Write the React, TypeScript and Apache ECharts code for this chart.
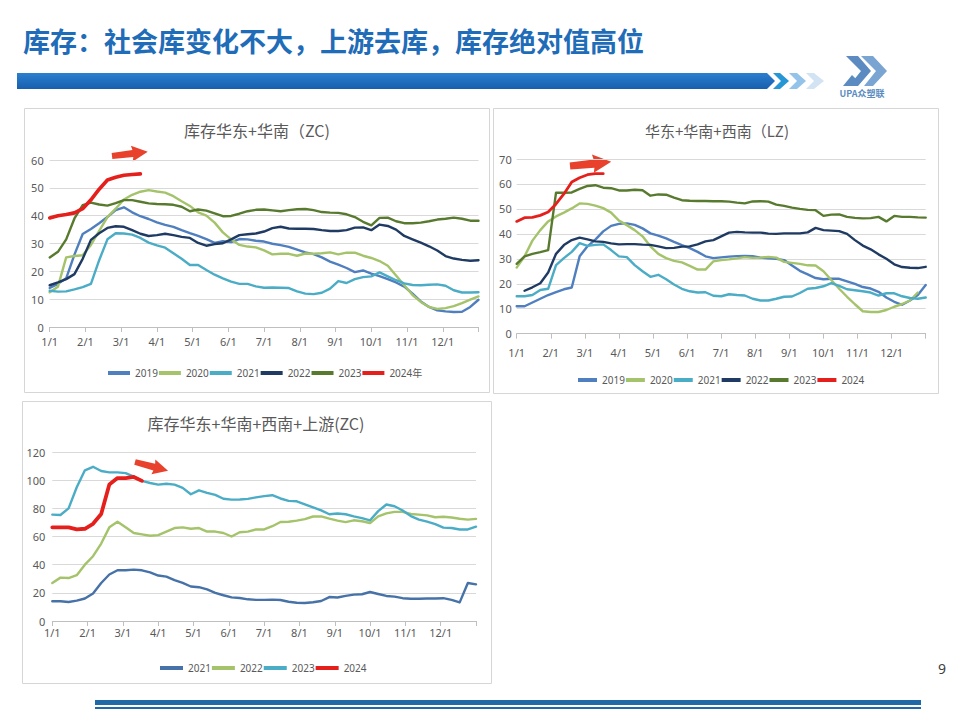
import React, { useEffect, useRef } from 'react';
import * as echarts from 'echarts';

// ---------- tick labels ----------
const monthLabels = ['1/1', '2/1', '3/1', '4/1', '5/1', '6/1', '7/1', '8/1', '9/1', '10/1', '11/1', '12/1'];
const WEEKS = 52; // weekly observations across 12 months

// ---------- chart 1: 库存华东+华南（ZC) ----------
const c1Names = ['2019', '2020', '2021', '2022', '2023', '2024年'];
const c1_2019 = [14, 15.5, 17.5, 26, 33.4, 35.2, 37.3, 39.5, 42, 43, 41.2, 39.8, 38.8, 37.6, 36.7, 36, 34.8, 33.7, 32.7, 31.6, 30.2, 30.8, 30.5, 31.6, 31.5, 31, 30.7, 29.9, 29.4, 28.8, 27.8, 26.8, 26.2, 25, 23.5, 22.4, 21.2, 19.7, 20.3, 19.2, 18.3, 17.2, 16, 14.5, 12, 9.2, 7.2, 6, 5.6, 5.4, 5.5, 7.2, 9.8];
const c1_2020 = [12.5, 14.5, 25, 25.5, 25.8, 29.5, 34.5, 39.5, 42.5, 45.8, 47.5, 48.6, 49.2, 48.7, 48.3, 47, 45.2, 43.5, 41.2, 40, 37.5, 34, 31.5, 29.5, 28.9, 28.6, 27.5, 26.1, 26.3, 26.3, 25.6, 26.4, 26.3, 26.5, 26.8, 26.1, 26.7, 26.7, 25.6, 24.8, 23.7, 22, 18.5, 15, 11.5, 9, 7.2, 6.5, 6.8, 7.5, 8.6, 9.8, 11];
const c1_2021 = [13, 12.7, 12.8, 13.5, 14.3, 15.5, 24, 31.5, 33.7, 33.6, 33.2, 32, 30.3, 29.3, 28.5, 26.5, 24.5, 22.3, 22.3, 20.5, 18.8, 17.5, 16.3, 15.5, 15.5, 14.6, 14.1, 14.2, 14.1, 14, 12.8, 12, 11.8, 12.3, 13.8, 16.5, 15.8, 17.2, 17.9, 18.2, 19.6, 18.2, 16.8, 15.7, 15.1, 15, 15.2, 15.3, 14.8, 13.2, 12.4, 12.4, 12.5];
const c1_2022 = [15, 16, 17.2, 19, 24.5, 31.3, 33.7, 35.6, 36.2, 36, 34.8, 33.5, 32.7, 33, 33.5, 33, 32.4, 32, 30.2, 29.2, 29.8, 30.1, 31.5, 33, 33.3, 33.6, 34.3, 35.5, 36, 35.4, 35.3, 35.3, 35.2, 34.8, 34.5, 34.5, 34.8, 35.7, 35.8, 34.8, 36.8, 36.3, 35, 32.7, 31.5, 30.3, 29, 27.5, 25.5, 24.6, 24.1, 23.8, 24];
const c1_2023 = [25, 27, 31.5, 39, 43.8, 44.7, 44, 43.6, 44.5, 45.6, 45.6, 45, 44.4, 44.2, 44.1, 43.9, 43.2, 41.6, 42.2, 41.8, 40.8, 39.8, 39.9, 40.7, 41.6, 42.1, 42.2, 41.9, 41.6, 42, 42.3, 42.4, 42, 41.3, 41.1, 41, 40.5, 39.5, 37.8, 36.5, 39.2, 39.3, 38, 37.3, 37.3, 37.5, 38, 38.6, 38.9, 39.3, 38.9, 38.2, 38.2];
const c1_2024 = [39.2, 40, 40.4, 41, 42.5, 45.7, 49.5, 52.8, 53.8, 54.5, 54.8, 55];

// ---------- chart 2: 华东+华南+西南（LZ) ----------
const c2Names = ['2019', '2020', '2021', '2022', '2023', '2024'];
const c2_2019 = [11, 11, 12.5, 14, 15.5, 16.7, 17.8, 18.5, 31, 35, 37.7, 41, 43.2, 44, 44.2, 43.6, 42.2, 40.2, 39.3, 38.2, 36.8, 35.5, 34.3, 32.8, 31, 30.3, 30.6, 30.9, 31.1, 31.2, 31.1, 30.5, 30.2, 30, 29.5, 27.3, 25.2, 23.8, 22.3, 21.8, 22, 22, 21, 20, 18.7, 18.1, 16.8, 14.5, 12.8, 11.6, 13.3, 15.5, 19.5];
const c2_2020 = [26.5, 31, 37.3, 41.5, 45, 47, 48.5, 50.2, 52.2, 52, 51.3, 50.3, 48.5, 45.3, 43.5, 41.5, 39, 35, 32, 30.3, 29.2, 28.6, 27.2, 25.7, 25.7, 29, 29.5, 29.8, 30.2, 30.7, 30.4, 30.5, 30.8, 30.5, 28.8, 28.4, 28, 27.4, 27.3, 25, 21.5, 18, 14.8, 11.8, 9, 8.7, 8.7, 9.5, 10.8, 11.9, 13.3, 16.5];
const c2_2021 = [15, 15, 15.5, 17.5, 18, 27.5, 30.3, 32.8, 36.3, 35.2, 35.6, 35.8, 33.5, 31, 30.7, 27.5, 25, 22.8, 23.6, 21.8, 19.7, 18, 17, 16.5, 16.6, 15.2, 15, 15.8, 15.5, 15.3, 14, 13.3, 13.3, 14, 14.8, 14.9, 16.3, 18, 18.3, 19, 20.3, 19.2, 17.8, 17.4, 17, 16.5, 15.3, 16.2, 16.2, 15, 14.3, 14, 14.5];
const c2_2022 = [17.2, 18.6, 20.2, 24.5, 32, 35.5, 37.5, 38.5, 37.8, 37, 36.8, 36.2, 35.8, 35.9, 35.9, 35.7, 35.6, 35, 34.3, 34.4, 34.9, 35, 35.8, 37, 37.5, 39, 40.5, 40.8, 40.6, 40.5, 40.5, 40.1, 40, 40.2, 40.2, 40.2, 40.6, 42.4, 41.5, 41.3, 41.1, 40, 37.5, 35.3, 33.8, 31.8, 30, 27.8, 26.7, 26.4, 26.3, 26.8];
const c2_2023 = [28, 31, 32, 32.7, 33.5, 56.5, 56.5, 56.6, 58, 59.2, 59.5, 58.5, 58.3, 57.4, 57.4, 57.7, 57.5, 55.3, 55.8, 55.7, 54.5, 53.5, 53.3, 53.2, 53.2, 53.1, 53.1, 52.9, 52.5, 52.2, 53, 53.1, 52.9, 51.7, 51.2, 50.5, 50, 49.6, 49.5, 47.2, 47.7, 47.8, 46.8, 46.4, 46.2, 46.3, 46.8, 45, 47.2, 46.8, 46.8, 46.6, 46.5];
const c2_2024 = [45, 46.5, 46.6, 47.4, 48.8, 52, 56, 60.8, 62.5, 63.7, 64.1, 64.1];

// ---------- chart 3: 库存华东+华南+西南+上游(ZC) ----------
const c3Names = ['2021', '2022', '2023', '2024'];
const c3_2021 = [14, 14, 13.5, 14.5, 16, 19.5, 27, 33, 36, 36, 36.5, 36, 34.5, 32.3, 31.5, 29, 27, 24.5, 24, 22.5, 20, 18.3, 16.8, 16.3, 15.4, 15, 15, 15.2, 14.9, 13.7, 13, 12.8, 13.3, 14.2, 17, 16.7, 17.8, 18.7, 19, 20.6, 19.2, 17.8, 17.3, 16.2, 15.8, 15.8, 16, 16, 16.2, 15, 13.2, 27, 26];
const c3_2022 = [27, 30.8, 30.5, 32.5, 40, 46, 55, 66.5, 70.5, 66.5, 62.5, 61.5, 60.5, 61, 63.5, 66, 66.5, 65.5, 66, 63.5, 63.5, 62.5, 60, 63, 63.5, 65, 65, 67.3, 70.3, 70.5, 71.3, 72.3, 74.2, 74.3, 72.7, 71.3, 70.2, 71.5, 70.8, 69.6, 74.3, 76.4, 77.5, 77.5, 76, 75.5, 75, 73.7, 74, 73.5, 72.6, 72, 72.5];
const c3_2023 = [75.5, 75.3, 80, 95, 107, 109.5, 106.5, 105.5, 105.5, 105, 102.5, 99.5, 98, 96.8, 97.5, 96.8, 94.5, 90, 92.8, 91, 89.5, 86.8, 86.2, 86.3, 86.7, 87.8, 88.7, 89.3, 87, 85.3, 85, 82.8, 80.7, 78.5, 75.8, 76.3, 75.8, 74.3, 73, 71.5, 78, 82.7, 81.5, 78.5, 74.5, 72, 70.6, 68.8, 66.3, 66, 65, 65, 67];
const c3_2024 = [66.5, 66.5, 66.5, 65, 65.5, 69, 76, 97, 101.5, 101.5, 102.3, 99.5];

// ---------- styles ----------
const COL = {
  y2019: '#4f7fbf',
  y2020: '#a4c36a',
  y2021: '#4bacc6',
  y2022: '#1f3b63',
  y2023: '#587a2f',
  y2024: '#e5201c',
  c3y2021: '#4672a8',
};
const LABEL_GREY = '#595959';
const NUM_FONT = 'Noto Sans, Liberation Sans, sans-serif';
const CJK_FONT = 'Noto Sans CJK SC, sans-serif';

function pts(values: number[], start = 0) {
  return values.map((v, i) => [((start + i) * 12) / WEEKS, v]);
}

function lineSeries(id: string, name: string, values: number[], color: string, idx: number, width = 2.4, start = 0) {
  return {
    type: 'line',
    id,
    name,
    xAxisIndex: idx,
    yAxisIndex: idx,
    data: pts(values, start),
    showSymbol: false,
    symbol: 'none',
    smooth: false,
    color,
    lineStyle: { color, width, cap: 'round', join: 'round' },
  };
}

function xAxisFor(idx: number, margin: number) {
  return {
    type: 'value',
    gridIndex: idx,
    min: 0,
    max: 12,
    interval: 1,
    axisLine: { show: true, lineStyle: { color: '#bfbfbf', width: 1 } },
    axisTick: { show: true, length: 5, lineStyle: { color: '#bfbfbf' } },
    splitLine: { show: false },
    axisLabel: {
      margin,
      color: LABEL_GREY,
      fontSize: 11,
      fontFamily: NUM_FONT,
      showMaxLabel: true,
      formatter: (v: number) => monthLabels[Math.round(v)] ?? '',
    },
  };
}

function yAxisFor(idx: number, max: number, interval: number, margin: number) {
  return {
    type: 'value',
    gridIndex: idx,
    min: 0,
    max,
    interval,
    axisLine: { show: false },
    axisTick: { show: false },
    splitLine: { show: true, lineStyle: { color: '#d9d9d9', width: 1 } },
    axisLabel: { margin, color: LABEL_GREY, fontSize: 11, fontFamily: NUM_FONT },
  };
}

function legendFor(names: string[], prefix: string, left: number, top: number, itemWidth: number) {
  return {
    data: names.map((n) => prefix + n),
    left,
    top,
    orient: 'horizontal',
    icon: 'rect',
    itemWidth,
    itemHeight: 4,
    itemGap: 1,
    selectedMode: false,
    textStyle: { color: LABEL_GREY, fontSize: 10, fontFamily: NUM_FONT + ', ' + CJK_FONT },
    formatter: (name: string) => name.slice(prefix.length),
  };
}

function arrow(x: number, y: number, rotation: number, scale: number, color: string) {
  return {
    type: 'polygon',
    x,
    y,
    rotation,
    scaleX: scale,
    scaleY: scale,
    shape: { points: [[0, -3], [21, -3.6], [20, -8], [36, 0], [20, 8], [21, 3.6], [0, 3]] },
    style: { fill: color },
    silent: true,
  };
}

export default function App() {
  const ref = useRef<HTMLDivElement>(null);

  useEffect(() => {
    if (!ref.current) return;
    const chart = echarts.init(ref.current, null, { renderer: 'svg' });

    const series: any[] = [
      lineSeries('a19', 'c1_' + c1Names[0], c1_2019, COL.y2019, 0),
      lineSeries('a20', 'c1_' + c1Names[1], c1_2020, COL.y2020, 0),
      lineSeries('a21', 'c1_' + c1Names[2], c1_2021, COL.y2021, 0),
      lineSeries('a22', 'c1_' + c1Names[3], c1_2022, COL.y2022, 0),
      lineSeries('a23', 'c1_' + c1Names[4], c1_2023, COL.y2023, 0),
      lineSeries('a24', 'c1_' + c1Names[5], c1_2024, COL.y2024, 0, 3.6),

      lineSeries('b19', 'c2_' + c2Names[0], c2_2019, COL.y2019, 1),
      lineSeries('b20', 'c2_' + c2Names[1], c2_2020, COL.y2020, 1),
      lineSeries('b21', 'c2_' + c2Names[2], c2_2021, COL.y2021, 1),
      lineSeries('b22', 'c2_' + c2Names[3], c2_2022, COL.y2022, 1, 2.4, 1),
      lineSeries('b23', 'c2_' + c2Names[4], c2_2023, COL.y2023, 1),
      lineSeries('b24', 'c2_' + c2Names[5], c2_2024, COL.y2024, 1, 2.8),

      lineSeries('d21', 'c3_' + c3Names[0], c3_2021, COL.c3y2021, 2),
      lineSeries('d22', 'c3_' + c3Names[1], c3_2022, COL.y2020, 2),
      lineSeries('d23', 'c3_' + c3Names[2], c3_2023, COL.y2021, 2),
      lineSeries('d24', 'c3_' + c3Names[3], c3_2024, COL.y2024, 2, 3.8),
    ];

    const graphic: any[] = [
      // chart frames
      { type: 'rect', shape: { x: 24.5, y: 108.5, width: 465, height: 284 }, style: { fill: 'none', stroke: '#d6d6d6', lineWidth: 1 }, silent: true },
      { type: 'rect', shape: { x: 493.5, y: 108.5, width: 445, height: 285 }, style: { fill: 'none', stroke: '#d6d6d6', lineWidth: 1 }, silent: true },
      { type: 'rect', shape: { x: 22.5, y: 401.5, width: 469, height: 282 }, style: { fill: 'none', stroke: '#d6d6d6', lineWidth: 1 }, silent: true },

      // slide title
      {
        type: 'text', x: 23, y: 40,
        style: { text: '库存：社会库变化不大，上游去库，库存绝对值高位', fill: '#1f6cb8', font: `bold 27px ${CJK_FONT}`, textVerticalAlign: 'middle' },
      },
      // banner bar
      {
        type: 'polygon',
        shape: { points: [[17, 73], [767, 73], [775, 81], [767, 89], [17, 89]] },
        style: {
          fill: new echarts.graphic.LinearGradient(0, 0, 0, 1, [
            { offset: 0, color: '#2b7fcf' },
            { offset: 1, color: '#165fae' },
          ]),
        },
        silent: true,
      },
      { type: 'polygon', shape: { points: [[773, 73], [780, 73], [789, 81], [780, 89], [773, 89], [781, 81]] }, style: { fill: '#2497d4' }, silent: true },
      { type: 'polygon', shape: { points: [[789, 73], [797, 73], [806, 81], [797, 89], [789, 89], [797, 81]] }, style: { fill: '#94c3ea' }, silent: true },
      { type: 'polygon', shape: { points: [[806, 73], [814, 73], [824, 81], [814, 89], [806, 89], [814, 81]] }, style: { fill: '#d2e4f4' }, silent: true },
      // logo
      { type: 'polygon', shape: { points: [[846, 56], [858, 56], [871, 71], [858, 86], [849, 86], [861, 71]] }, style: { fill: '#5b8bc0' }, silent: true },
      { type: 'polygon', shape: { points: [[861, 56], [873, 56], [887, 71], [873, 86], [864, 86], [876, 71]] }, style: { fill: '#7aa5d3' }, silent: true },
      { type: 'polygon', shape: { points: [[843, 86], [852, 75], [857, 80], [852, 86]] }, style: { fill: '#5b8bc0' }, silent: true },
      { type: 'text', x: 862, y: 93, style: { text: 'UPA众塑联', fill: '#5b8bc0', font: `bold 9px ${CJK_FONT}`, textAlign: 'center', textVerticalAlign: 'middle' } },

      // chart titles
      { type: 'text', x: 257, y: 130, style: { text: '库存华东+华南（ZC)', fill: LABEL_GREY, font: `16px ${CJK_FONT}`, textAlign: 'center', textVerticalAlign: 'middle' } },
      { type: 'text', x: 717, y: 130, style: { text: '华东+华南+西南（LZ)', fill: LABEL_GREY, font: `15px ${CJK_FONT}`, textAlign: 'center', textVerticalAlign: 'middle' } },
      { type: 'text', x: 256, y: 423, style: { text: '库存华东+华南+西南+上游(ZC)', fill: LABEL_GREY, font: `16px ${CJK_FONT}`, textAlign: 'center', textVerticalAlign: 'middle' } },

      // annotation arrows
      arrow(112, 156, 0.12, 1, '#e8412c'),
      arrow(570, 166, 0.1, 1.15, '#e8412c'),
      arrow(135, 462, -0.26, 0.95, '#e8412c'),

      // footer
      { type: 'rect', shape: { x: 95, y: 700, width: 826, height: 5 }, style: { fill: '#1f6aa6' }, silent: true },
      { type: 'rect', shape: { x: 95, y: 707, width: 826, height: 2 }, style: { fill: '#1f6aa6' }, silent: true },
      { type: 'text', x: 942, y: 668, style: { text: '9', fill: '#404040', font: `14px ${NUM_FONT}`, textAlign: 'center', textVerticalAlign: 'middle' } },
    ];

    chart.setOption({
      animation: false,
      backgroundColor: '#ffffff',
      grid: [
        { left: 49.7, top: 160, width: 428.8, height: 167 },
        { left: 516.7, top: 159, width: 409, height: 174.7 },
        { left: 52.3, top: 452, width: 423.7, height: 169 },
      ],
      xAxis: [xAxisFor(0, 9), xAxisFor(1, 13), xAxisFor(2, 6)],
      yAxis: [yAxisFor(0, 60, 10, 6), yAxisFor(1, 70, 10, 5), yAxisFor(2, 120, 20, 7)],
      legend: [
        legendFor(c1Names, 'c1_', 103, 363, 22),
        legendFor(c2Names, 'c2_', 573, 370, 19),
        legendFor(c3Names, 'c3_', 155, 658, 23),
      ],
      series,
      graphic,
    });

    return () => chart.dispose();
  }, []);

  return (
    <div style={{ position: 'fixed', left: 0, top: 0, width: 960, height: 720, background: '#fff' }}>
      <div ref={ref} style={{ width: 960, height: 720 }} />
    </div>
  );
}
